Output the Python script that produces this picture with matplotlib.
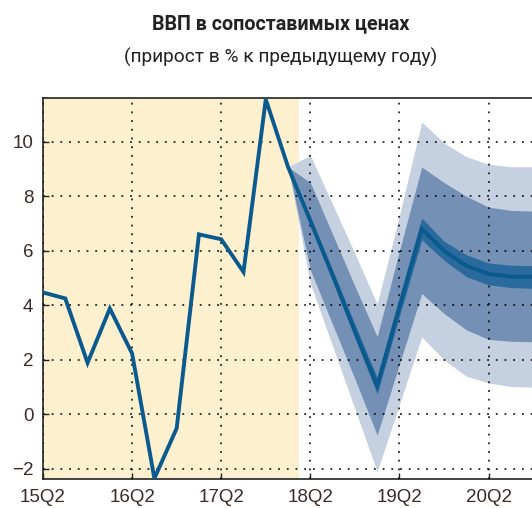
import matplotlib.pyplot as plt
import numpy as np

# quarter index 0 = 15Q2
tick_pos = [0, 4, 8, 12, 16, 20]
tick_labels = ['15Q2', '16Q2', '17Q2', '18Q2', '19Q2', '20Q2']

# actual GDP growth, 15Q2 .. 18Q1
hist_x = list(range(12))
hist_y = [4.47, 4.25, 1.89, 3.88, 2.23, -2.35, -0.51, 6.6, 6.42, 5.22, 11.55, 9.07]

# forecast, 18Q1 .. 20Q4 (fan chart)
fc_x = list(range(11, 23))
fc_mid = [9.07, 7.1, 5.1, 3.05, 1.05, 3.95, 6.8, 6.0, 5.45, 5.15, 5.05, 5.05]
outer_hi = [9.07, 9.5, 7.7, 5.9, 4.05, 7.3, 10.72, 9.95, 9.45, 9.17, 9.08, 9.08]
outer_lo = [9.07, 4.8, 2.5, 0.2, -2.1, 0.36, 2.84, 2.0, 1.4, 1.15, 1.02, 1.0]
mid_hi = [9.07, 8.5, 6.6, 4.7, 2.85, 6.0, 9.07, 8.5, 8.0, 7.6, 7.48, 7.45]
mid_lo = [9.07, 5.3, 3.3, 1.3, -0.76, 1.85, 4.43, 3.7, 3.1, 2.75, 2.68, 2.66]
inner_hi = [9.07, 7.25, 5.3, 3.3, 1.35, 4.3, 7.2, 6.35, 5.85, 5.55, 5.47, 5.45]
inner_lo = [9.07, 6.95, 4.9, 2.8, 0.75, 3.6, 6.4, 5.65, 5.05, 4.75, 4.65, 4.62]

fig = plt.figure(figsize=(5.32, 5.08), dpi=100)
ax = fig.add_axes([43 / 532, 29 / 508, 1 - 43 / 532, 381 / 508])

# history shading
ax.axvspan(0, 11.5, color='#fdf0cf', lw=0, zorder=0)

ax.fill_between(fc_x, outer_lo, outer_hi, color='#c5d0e0', lw=0, zorder=1)
ax.fill_between(fc_x, mid_lo, mid_hi, color='#7490b5', lw=0, zorder=2)
ax.fill_between(fc_x, inner_lo, inner_hi, color='#2a6a9c', lw=0, zorder=3)

ax.plot(hist_x + fc_x[1:], hist_y + fc_mid[1:], color='#0b5a8e', lw=2.8,
        solid_joinstyle='miter', zorder=4)

ax.set_xlim(0, 21.95)
ax.set_ylim(-2.37, 11.6)
ax.set_xticks(tick_pos)
ax.set_xticklabels(tick_labels)
ax.set_yticks(range(-2, 11, 2))
ax.tick_params(axis='both', direction='in', length=4, width=1, colors='#222222',
               labelsize=13.5, pad=7)
for lab in ax.get_xticklabels() + ax.get_yticklabels():
    lab.set_family(['Liberation Sans', 'DejaVu Sans'])
    lab.set_color('#3a2a2a')

ax.grid(True, color='black', linestyle=(0, (1.2, 4.5)), lw=1.1, zorder=5)
ax.set_axisbelow(False)
for s in ['left', 'bottom', 'top']:
    ax.spines[s].set_color('#222222')
    ax.spines[s].set_linewidth(1.2)
ax.spines['right'].set_visible(False)

fig.text(0.527, 1 - 24 / 508, 'ВВП в сопоставимых ценах', ha='center', va='center',
         fontsize=14.2, fontweight='bold', color='#222222',
         family=['Roboto', 'DejaVu Sans'])
fig.text(0.527, 1 - 57 / 508, '(прирост в % к предыдущему году)', ha='center', va='center',
         fontsize=13.8, color='#222222',
         family=['Roboto', 'DejaVu Sans'])

fig.savefig('out.png', dpi=100)
